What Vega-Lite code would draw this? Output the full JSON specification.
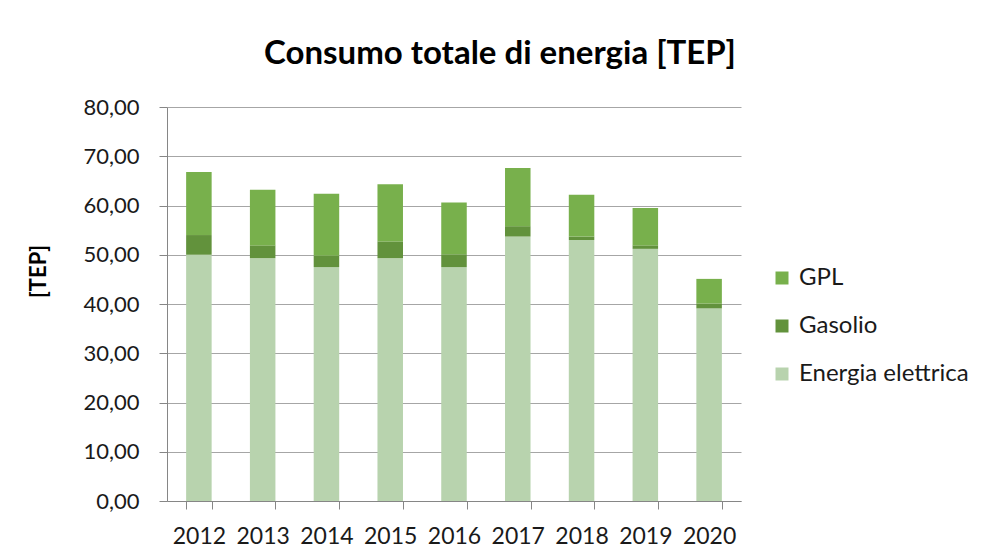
{
  "$schema": "https://vega.github.io/schema/vega-lite/v6.json",
  "autosize": {"type": "none"},
  "padding": {"left": 167, "top": 107, "right": 253, "bottom": 58},
  "width": 574,
  "height": 394,
  "background": "white",
  "title": {
    "text": "Consumo totale di energia [TEP]",
    "font": "Lato",
    "fontSize": 33,
    "fontWeight": "bold",
    "color": "#000000",
    "anchor": "middle",
    "dx": 46,
    "offset": 25
  },
  "data": {
    "values": [
      {"anno": "2012", "serie": "Energia elettrica", "tep": 50.0},
      {"anno": "2012", "serie": "Gasolio", "tep": 4.0},
      {"anno": "2012", "serie": "GPL", "tep": 12.8},
      {"anno": "2013", "serie": "Energia elettrica", "tep": 49.3},
      {"anno": "2013", "serie": "Gasolio", "tep": 2.6},
      {"anno": "2013", "serie": "GPL", "tep": 11.3},
      {"anno": "2014", "serie": "Energia elettrica", "tep": 47.5},
      {"anno": "2014", "serie": "Gasolio", "tep": 2.3},
      {"anno": "2014", "serie": "GPL", "tep": 12.6},
      {"anno": "2015", "serie": "Energia elettrica", "tep": 49.3},
      {"anno": "2015", "serie": "Gasolio", "tep": 3.4},
      {"anno": "2015", "serie": "GPL", "tep": 11.6},
      {"anno": "2016", "serie": "Energia elettrica", "tep": 47.5},
      {"anno": "2016", "serie": "Gasolio", "tep": 2.6},
      {"anno": "2016", "serie": "GPL", "tep": 10.5},
      {"anno": "2017", "serie": "Energia elettrica", "tep": 53.7},
      {"anno": "2017", "serie": "Gasolio", "tep": 2.1},
      {"anno": "2017", "serie": "GPL", "tep": 11.8},
      {"anno": "2018", "serie": "Energia elettrica", "tep": 53.0},
      {"anno": "2018", "serie": "Gasolio", "tep": 0.7},
      {"anno": "2018", "serie": "GPL", "tep": 8.5},
      {"anno": "2019", "serie": "Energia elettrica", "tep": 51.2},
      {"anno": "2019", "serie": "Gasolio", "tep": 0.7},
      {"anno": "2019", "serie": "GPL", "tep": 7.6},
      {"anno": "2020", "serie": "Energia elettrica", "tep": 39.1},
      {"anno": "2020", "serie": "Gasolio", "tep": 1.0},
      {"anno": "2020", "serie": "GPL", "tep": 5.0}
    ]
  },
  "transform": [
    {"calculate": "indexof(['Energia elettrica', 'Gasolio', 'GPL'], datum.serie)", "as": "ordine"}
  ],
  "mark": {"type": "bar"},
  "encoding": {
    "x": {
      "field": "anno",
      "type": "ordinal",
      "scale": {"paddingInner": 0.6, "paddingOuter": 0.3},
      "axis": {
        "title": null,
        "labelAngle": 0,
        "labelFont": "Lato",
        "labelFontSize": 23,
        "labelColor": "#1a1a1a",
        "labelPadding": 16,
        "tickBand": "extent",
        "tickSize": 8,
        "tickColor": "#868686",
        "domainColor": "#868686",
        "grid": false
      }
    },
    "y": {
      "field": "tep",
      "type": "quantitative",
      "stack": "zero",
      "scale": {"domain": [0, 80], "nice": false},
      "axis": {
        "title": "[TEP]",
        "titleFont": "Lato",
        "titleFontSize": 22,
        "titleFontWeight": "bold",
        "titleColor": "#000000",
        "titlePadding": 32,
        "titleY": 164,
        "values": [0, 10, 20, 30, 40, 50, 60, 70, 80],
        "labelExpr": "replace(format(datum.value, '.2f'), '.', ',')",
        "labelFont": "Lato",
        "labelFontSize": 22,
        "labelColor": "#1a1a1a",
        "labelPadding": 20,
        "tickSize": 8,
        "tickColor": "#868686",
        "domainColor": "#868686",
        "grid": true,
        "gridColor": "#A6A6A6",
        "gridWidth": 1
      }
    },
    "order": {"field": "ordine", "type": "quantitative", "sort": "ascending"},
    "color": {
      "field": "serie",
      "type": "nominal",
      "scale": {
        "domain": ["GPL", "Gasolio", "Energia elettrica"],
        "range": ["#78B04C", "#62923C", "#B8D3AE"]
      },
      "legend": {
        "title": null,
        "orient": "none",
        "legendX": 603,
        "legendY": 159,
        "symbolType": "square",
        "symbolSize": 169,
        "symbolStrokeWidth": 0,
        "labelFont": "Lato",
        "labelFontSize": 24,
        "labelColor": "#1a1a1a",
        "labelOffset": 5,
        "labelLimit": 300,
        "rowPadding": 24
      }
    }
  },
  "config": {
    "view": {"stroke": null}
  }
}
